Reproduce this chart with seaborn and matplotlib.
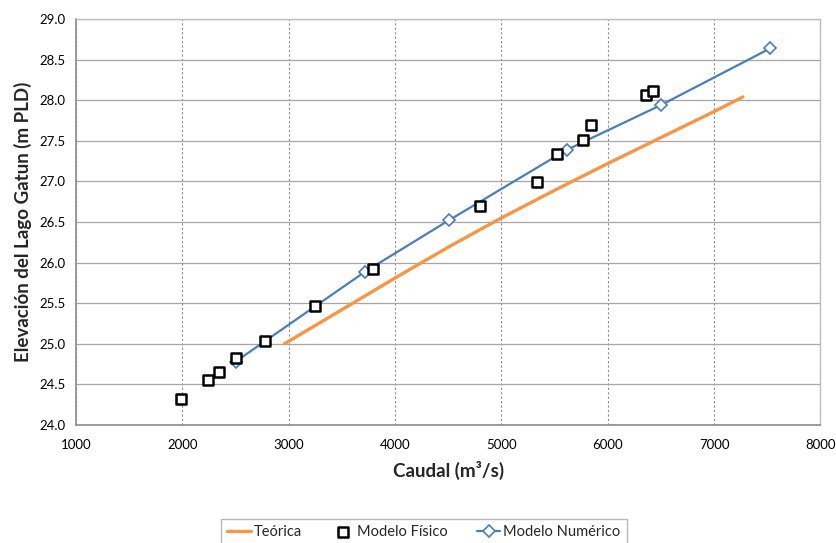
import matplotlib
matplotlib.use("Agg")
import matplotlib.pyplot as plt
import numpy as np
import pandas as pd
import seaborn as sns

# Teórica
q_teo = [2960, 3500, 4000, 4500, 5000, 5500, 6000, 6500, 7000, 7270]
h_teo = [25.00, 25.42, 25.81, 26.19, 26.55, 26.89, 27.22, 27.54, 27.86, 28.04]

# Modelo Físico
q_fis = [1990, 2240, 2340, 2500, 2780, 3250, 3790, 4803, 5338, 5526, 5767, 5842, 6360, 6423]
h_fis = [24.32, 24.55, 24.65, 24.82, 25.04, 25.46, 25.92, 26.70, 26.99, 27.34, 27.51, 27.69, 28.06, 28.11]

# Modelo Numérico
q_num = [2500, 3720, 4505, 5617, 6500, 7530]
h_num = [24.78, 25.89, 26.52, 27.39, 27.94, 28.64]

sns.set_style("white")
plt.rcParams['font.family'] = ['Lato', 'DejaVu Sans']

df_teo = pd.DataFrame({"q": q_teo, "h": h_teo})
df_fis = pd.DataFrame({"q": q_fis, "h": h_fis})
df_num = pd.DataFrame({"q": q_num, "h": h_num})

fig = plt.figure(figsize=(8.36, 5.43), dpi=100)
ax = fig.add_axes([0.0909, 0.2173, 0.8905, 0.7477])

sns.lineplot(data=df_teo, x="q", y="h", ax=ax, color="#f79646", lw=2.4,
             sort=False, label="Teórica", zorder=3)
sns.scatterplot(data=df_fis, x="q", y="h", ax=ax, marker="s", s=50,
                facecolor="white", edgecolor="black", linewidth=1.8,
                label="Modelo Físico", zorder=5)
sns.lineplot(data=df_num, x="q", y="h", ax=ax, color="#4a7ebb", lw=1.6,
             sort=False, marker="D", markersize=6, markerfacecolor="white",
             markeredgecolor="#4a7ebb", markeredgewidth=1.2,
             label="Modelo Numérico", zorder=4)

ax.set_xlim(1000, 8000)
ax.set_ylim(24.0, 29.0)
ax.set_xticks(np.arange(1000, 8001, 1000))
ax.set_yticks(np.arange(24.0, 29.01, 0.5))
ax.set_yticklabels([f"{v:.1f}" for v in np.arange(24.0, 29.01, 0.5)])

ax.xaxis.grid(True, color="#8c8c8c", lw=0.8, ls=(0, (2, 2)))
ax.yaxis.grid(True, color="#a6a6a6", lw=0.9)
ax.set_axisbelow(True)

for s in ["left", "bottom"]:
    ax.spines[s].set_color("#8c8c8c")
    ax.spines[s].set_linewidth(1.2)
for s in ["top", "right"]:
    ax.spines[s].set_color("#bfbfbf")
    ax.spines[s].set_linewidth(1.0)

ax.tick_params(axis="both", which="major", direction="out", length=4,
               color="#8c8c8c", labelsize=9.5, colors="#8c8c8c", labelcolor="black")
ax.tick_params(axis="x", pad=6)

ax.set_xlabel("Caudal (m³/s)", fontsize=13.5, fontweight="bold", labelpad=7)
ax.set_ylabel("Elevación del Lago Gatun (m PLD)", fontsize=13.5, fontweight="bold", labelpad=5)

ax.get_legend().remove()
h, l = ax.get_legend_handles_labels()
leg = fig.legend(h, l, loc="center", bbox_to_anchor=(0.507, 0.02), ncol=3,
                 fontsize=10.5, frameon=True, fancybox=False, edgecolor="#a6a6a6",
                 handlelength=1.6, handletextpad=0.2, columnspacing=2.0,
                 borderpad=0.45)
leg.get_frame().set_linewidth(1.0)

fig.savefig("out.png", dpi=100)
